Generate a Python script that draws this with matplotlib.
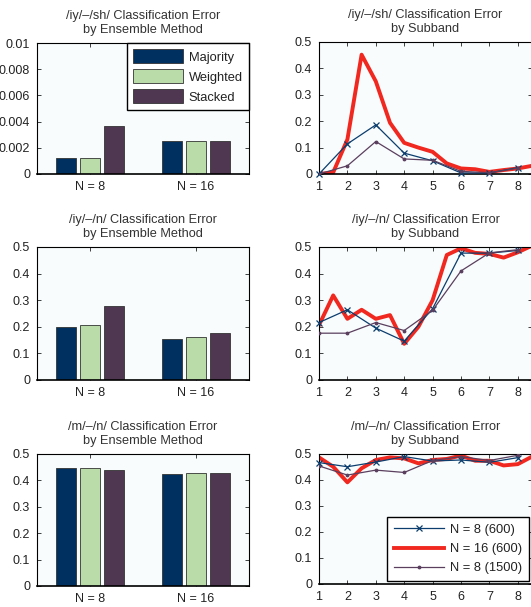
import numpy as np
import matplotlib.pyplot as plt
from matplotlib.ticker import FuncFormatter

plt.rcParams['font.family'] = ['Liberation Sans', 'DejaVu Sans']

# ensemble bar data: rows = N=8, N=16 ; cols = Majority, Weighted, Stacked
groups = ['N = 8', 'N = 16']
methods = ['Majority', 'Weighted', 'Stacked']
sh_bars = [[0.0012, 0.0012, 0.0037], [0.0025, 0.0025, 0.0025]]
n_bars = [[0.198, 0.205, 0.278], [0.153, 0.160, 0.175]]
mn_bars = [[0.448, 0.446, 0.440], [0.425, 0.428, 0.427]]

# subband error
sub8 = [1, 2, 3, 4, 5, 6, 7, 8]
sub16 = [1, 1.5, 2, 2.5, 3, 3.5, 4, 4.5, 5, 5.5, 6, 6.5, 7, 7.5, 8, 8.5]

sh_n8 = [0.0, 0.114, 0.186, 0.079, 0.050, 0.004, 0.004, 0.024]
sh_n16 = [0.0, 0.006, 0.131, 0.452, 0.351, 0.194, 0.118, 0.100, 0.084, 0.040,
          0.021, 0.018, 0.008, 0.015, 0.021, 0.031]
sh_n8b = [0.0, 0.031, 0.123, 0.057, 0.052, 0.010, 0.005, 0.022]

n_n8 = [0.216, 0.264, 0.195, 0.146, 0.268, 0.477, 0.477, 0.487]
n_n16 = [0.206, 0.318, 0.230, 0.264, 0.230, 0.244, 0.136, 0.200, 0.300, 0.470,
         0.495, 0.478, 0.474, 0.460, 0.480, 0.505]
n_n8b = [0.176, 0.176, 0.216, 0.186, 0.262, 0.410, 0.478, 0.490]

mn_n8 = [0.467, 0.451, 0.469, 0.490, 0.473, 0.477, 0.468, 0.486]
mn_n16 = [0.487, 0.451, 0.391, 0.445, 0.477, 0.487, 0.483, 0.464, 0.477, 0.481,
          0.494, 0.474, 0.474, 0.456, 0.461, 0.490]
mn_n8b = [0.454, 0.419, 0.438, 0.429, 0.475, 0.490, 0.475, 0.495]

bar_colors = ['#00305f', '#b9dca8', '#4f3752']
c_n8 = '#0b3d6e'
c_n16 = '#f0281f'
c_n8b = '#5a3f5e'
bg = '#f8fcfc'
txt = '#222222'

W, H = 531, 607
fig = plt.figure(figsize=(W / 100, H / 100), dpi=100)


def add_ax(l, r, t, b):
    return fig.add_axes([l / W, 1 - b / H, (r - l) / W, (b - t) / H])


def style(ax, title):
    ax.set_facecolor(bg)
    ax.tick_params(direction='in', top=True, right=True, length=3,
                   labelsize=9, colors=txt, width=0.6)
    ax.tick_params(axis='x', pad=5)
    ax.tick_params(axis='y', pad=5)
    for s in ax.spines.values():
        s.set_color('black')
        s.set_linewidth(0.8)
    ax.spines['bottom'].set_linewidth(1.2)
    ax.set_title(title, fontsize=9.2, color='#333333', pad=7.5, linespacing=1.15)
    ax.yaxis.set_major_formatter(FuncFormatter(lambda v, p: '%g' % round(v, 6)))


def bars(ax, data, ymax, yticks, title):
    x = np.arange(1, len(groups) + 1)
    offs = [-0.229, 0, 0.229]
    for i in range(len(methods)):
        vals = [row[i] for row in data]
        ax.bar(x + offs[i], vals, width=0.19, color=bar_colors[i],
               edgecolor='#333333', linewidth=0.6, label=methods[i], zorder=2)
    ax.set_xlim(0.5, 2.5)
    ax.set_ylim(0, ymax)
    ax.set_yticks(yticks)
    ax.set_xticks(x)
    ax.set_xticklabels(groups)
    style(ax, title)


def lines(ax, a, b, c, title):
    ax.plot(sub8, a, color=c_n8, lw=0.9, marker='x', ms=5, mew=0.9,
            label='N = 8 (600)', zorder=3, clip_on=False)
    ax.plot(sub16, b, color=c_n16, lw=2.8, label='N = 16 (600)', zorder=2)
    ax.plot(sub8, c, color=c_n8b, lw=0.9, marker='.', ms=3.5,
            label='N = 8 (1500)', zorder=3)
    ax.set_xlim(1, 8.5)
    ax.set_ylim(0, 0.5)
    ax.set_xticks(sub8)
    ax.set_yticks(np.arange(0, 0.51, 0.1))
    style(ax, title)


a1 = add_ax(37, 249, 43, 174)
bars(a1, sh_bars, 0.01, np.arange(0, 0.0101, 0.002),
     '/iy/\u2013/sh/ Classification Error\nby Ensemble Method')
leg = a1.legend(loc='upper right', bbox_to_anchor=(1, 1), borderaxespad=0,
                fontsize=9.3, handlelength=3.9, handleheight=1.25,
                labelspacing=0.45, fancybox=False, framealpha=1,
                edgecolor='black', borderpad=0.5, handletextpad=0.4)
leg.get_frame().set_linewidth(1.0)
for t in leg.get_texts():
    t.set_color(txt)

a2 = add_ax(319, 532, 42, 174)
lines(a2, sh_n8, sh_n16, sh_n8b, '/iy/\u2013/sh/ Classification Error\nby Subband')

a3 = add_ax(37, 249, 247, 380)
bars(a3, n_bars, 0.5, np.arange(0, 0.51, 0.1),
     '/iy/\u2013/n/ Classification Error\nby Ensemble Method')

a4 = add_ax(319, 532, 247, 380)
lines(a4, n_n8, n_n16, n_n8b, '/iy/\u2013/n/ Classification Error\nby Subband')

a5 = add_ax(37, 249, 454, 586)
bars(a5, mn_bars, 0.5, np.arange(0, 0.51, 0.1),
     '/m/\u2013/n/ Classification Error\nby Ensemble Method')

a6 = add_ax(319, 532, 454, 584)
lines(a6, mn_n8, mn_n16, mn_n8b, '/m/\u2013/n/ Classification Error\nby Subband')
leg2 = a6.legend(loc='lower right', bbox_to_anchor=(0.985, 0.02), borderaxespad=0,
                 fontsize=9.3, handlelength=3.9, labelspacing=0.55,
                 fancybox=False, framealpha=1, edgecolor='black',
                 borderpad=0.55, handletextpad=0.4)
leg2.get_frame().set_linewidth(1.0)
for t in leg2.get_texts():
    t.set_color(txt)

fig.savefig('out.png', dpi=100, facecolor='white')
